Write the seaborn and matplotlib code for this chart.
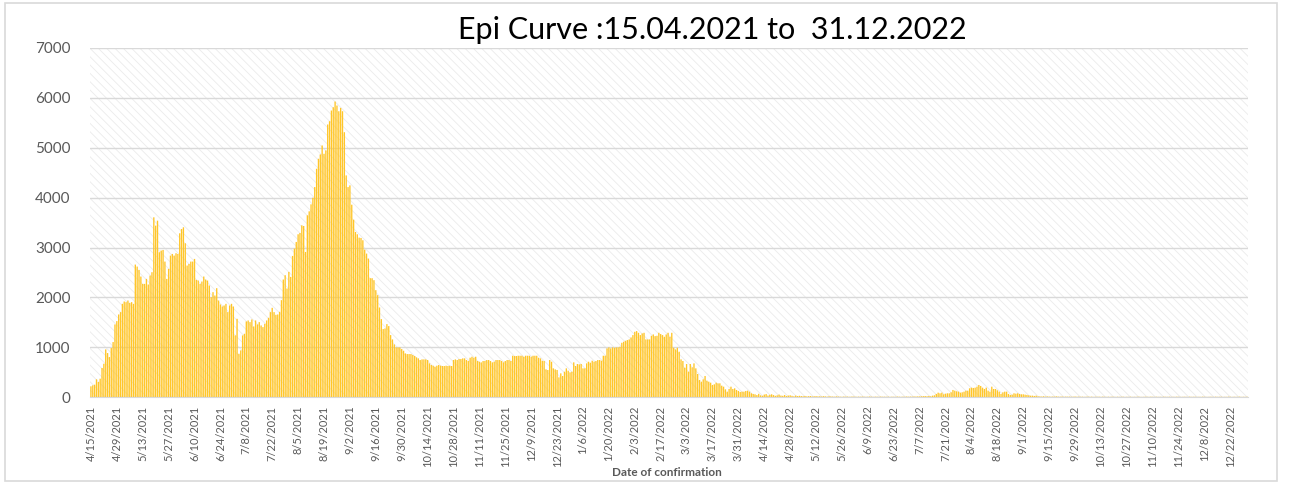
import matplotlib
matplotlib.use("Agg")
import matplotlib.pyplot as plt
from matplotlib.patches import Rectangle
import numpy as np
import pandas as pd
import seaborn as sns

start_date = "2021-04-15"
end_date = "2022-12-31"

# daily confirmed cases (one value per day)
cases_apr_may_2021 = [220, 240, 253, 360, 307, 373, 587, 673, 960, 887,
                      807, 987, 1107, 1460, 1527, 1660, 1707, 1873, 1920, 1907,
                      1940, 1893, 1907, 1873, 2660, 2620, 2553, 2420, 2273, 2273,
                      2373, 2260, 2440, 2507, 3607, 3440, 3540, 2907, 2940, 2953,
                      2720, 2373, 2573, 2840, 2873, 2840, 2887, 2873, 3287, 3373,
                      3407]
cases_jun_jul_2021 = [3087, 2640, 2673, 2720, 2720, 2773, 2353, 2340, 2273, 2320,
                      2420, 2360, 2340, 2240, 2007, 2107, 2040, 2187, 1940, 1860,
                      1820, 1840, 1873, 1707, 1840, 1873, 1820, 1240, 1573, 873,
                      940, 1240, 1273, 1520, 1540, 1507, 1560, 1420, 1540, 1460,
                      1507, 1440, 1407, 1473, 1540, 1593, 1707, 1793, 1707, 1653]
cases_aug_sep_2021 = [1660, 1713, 1947, 2360, 2447, 2180, 2513, 2413, 2833, 2980,
                      3113, 3267, 3293, 3447, 3433, 2913, 3647, 3727, 3867, 4000,
                      4213, 4580, 4780, 4867, 5047, 4880, 4947, 5467, 5533, 5747,
                      5813, 5927, 5847, 5733, 5800, 5733, 5313, 4447, 4213, 4247,
                      3860, 3560, 3313, 3267, 3200, 3193, 3147, 2960, 2880, 2780,
                      2387, 2387]
cases_sep_nov_2021 = [2347, 2147, 2047, 1800, 1567, 1367, 1380, 1467, 1427, 1247,
                      1160, 1060, 1000, 1000, 1000, 967, 933, 880, 867, 867,
                      867, 847, 827, 800, 780, 747, 760, 760, 760, 747,
                      680, 647, 633, 613, 633, 647, 633, 627, 627, 633,
                      627, 633, 627, 747, 760, 747, 767, 767, 780, 780,
                      747]
cases_nov_dec_2021 = [727, 793, 813, 793, 813, 727, 713, 700, 727, 727,
                      747, 747, 727, 700, 713, 747, 747, 747, 727, 700,
                      727, 747, 747, 727, 833, 827, 827, 833, 833, 833,
                      813, 833, 833, 833, 813, 833, 833, 833, 793, 780,
                      733, 727, 560, 547, 747, 713, 580, 560, 547, 400,
                      480]
cases_jan_feb_2022 = [427, 513, 580, 533, 500, 513, 700, 627, 667, 660,
                      667, 580, 580, 680, 713, 693, 733, 713, 727, 747,
                      747, 733, 833, 833, 980, 1000, 980, 1000, 993, 1000,
                      1000, 1013, 1093, 1113, 1133, 1147, 1160, 1200, 1247, 1313,
                      1327, 1293, 1247, 1280, 1293, 1160, 1160, 1160, 1233, 1260,
                      1227]
cases_feb_apr_2022 = [1233, 1293, 1267, 1247, 1213, 1260, 1293, 1213, 1293, 993,
                      960, 993, 913, 760, 727, 593, 667, 513, 667, 600,
                      680, 580, 467, 347, 313, 360, 427, 333, 313, 293,
                      247, 260, 293, 280, 280, 233, 213, 160, 113, 167,
                      213, 167, 180, 147, 127, 107, 113, 113, 127, 133,
                      113, 80, 67]
cases_apr_2022 = [60, 45, 70, 40, 30, 55, 65, 35, 50, 60,
                  45, 30, 40, 55, 35, 30, 45, 25, 35, 40,
                  30, 20, 35, 25, 30]
cases_may_jul_2022 = [25, 20, 27, 18, 22, 25, 15, 20, 23, 18,
                      20, 15, 22, 18, 13, 20, 17, 15, 12, 18,
                      15, 13, 10, 15, 12, 14, 10, 13, 15, 12,
                      10, 13, 11, 14, 12, 10, 12, 15, 11, 9,
                      13, 12, 10, 14, 11, 12, 10, 13, 9, 12,
                      11, 10, 14, 12, 10, 13, 11, 15, 12, 14,
                      13, 16, 15, 18, 17, 20, 22, 25]
cases_jul_sep_2022 = [20, 27, 20, 33, 40, 67, 93, 80, 93, 60,
                      73, 80, 80, 100, 147, 133, 120, 113, 93, 100,
                      113, 133, 133, 180, 193, 187, 193, 213, 247, 227,
                      193, 167, 193, 133, 113, 213, 167, 167, 140, 113,
                      67, 100, 113, 113, 67, 47, 53, 80, 73, 80,
                      67, 60, 60, 53, 47, 40, 33, 33, 27, 33]
cases_sep_dec_2022 = [20, 18, 15, 20, 13, 17, 15, 12, 15, 13,
                      18, 13, 12, 15, 10, 14, 12, 13, 10, 12,
                      15, 11, 13, 10, 12, 9, 11, 13, 10, 12,
                      8, 11, 10, 12, 9, 13, 10, 8, 11, 9,
                      12, 10, 8, 11, 9, 10, 12, 8, 10, 9,
                      11, 8, 10, 9, 12, 10, 8, 9, 11, 10,
                      9, 12, 10, 8, 11, 9, 10, 8, 12, 10,
                      9, 11, 8, 10, 9, 12, 10, 8, 9, 11,
                      10, 8, 12, 9, 10, 11, 8, 10, 9, 12,
                      10, 8, 9, 11, 10, 8, 12, 9, 10, 11,
                      8, 10, 9, 12, 10, 8, 11, 9, 10, 12,
                      8, 10, 9, 11]

cases = (cases_apr_may_2021 + cases_jun_jul_2021 + cases_aug_sep_2021
         + cases_sep_nov_2021 + cases_nov_dec_2021 + cases_jan_feb_2022
         + cases_feb_apr_2022 + cases_apr_2022 + cases_may_jul_2022
         + cases_jul_sep_2022 + cases_sep_dec_2022)

dates = pd.date_range(start_date, end_date, freq="D")
n = min(len(dates), len(cases))
df = pd.DataFrame({"day": np.arange(n), "cases": cases[:n]})

sns.set_style("white")
plt.rcParams["font.family"] = ["Lato", "DejaVu Sans"]
plt.rcParams["hatch.linewidth"] = 0.6

fig = plt.figure(figsize=(13, 4.84), dpi=100)
ax = fig.add_axes([90 / 1300, 1 - 397.3 / 484, 1158 / 1300, 349.3 / 484])

# hatched plot-area background
ax.add_patch(Rectangle((0, 0), 1, 1, transform=ax.transAxes, facecolor="white",
                       hatch="\\\\\\\\", edgecolor="#ebebeb", lw=0, zorder=0))

sns.barplot(data=df, x="day", y="cases", color="#FFC629", saturation=1,
            width=0.72, errorbar=None, native_scale=True, ax=ax, zorder=2,
            linewidth=0, snap=False)

ax.set_xlim(-0.5, len(dates) - 0.5)
ax.set_ylim(0, 7000)
ax.set_yticks(range(0, 7001, 1000))
ax.yaxis.grid(True, color="#d9d9d9", lw=1)
ax.set_axisbelow(True)

tick_pos = list(range(0, len(dates), 14))
tick_lab = [f"{d.month}/{d.day}/{d.year}" for d in dates[tick_pos]]
ax.set_xticks(tick_pos)
ax.set_xticklabels(tick_lab, rotation=90, fontsize=8, color="#595959")
ax.tick_params(axis="y", labelsize=11, labelcolor="#595959", length=0, pad=14)
ax.tick_params(axis="x", length=0, pad=6)

for side in ["top", "left", "right"]:
    ax.spines[side].set_visible(False)
ax.spines["bottom"].set_color("#d9d9d9")

ax.set_xlabel("")
ax.set_ylabel("")
fig.text(667 / 1300, 1 - 472 / 484, "Date of confirmation", ha="center",
         va="center", fontsize=8.5, fontweight="bold", color="#595959")

fig.text(712 / 1300, 1 - 30 / 484, "Epi Curve :15.04.2021 to  31.12.2022",
         ha="center", va="center", fontsize=22, color="#000000")

# outer chart border
fig.patches.append(Rectangle((5 / 1300, 3 / 484), 1272 / 1300, 478 / 484,
                             transform=fig.transFigure, fill=False,
                             edgecolor="#d9d9d9", lw=1.2))

fig.savefig("out.png", dpi=100)
